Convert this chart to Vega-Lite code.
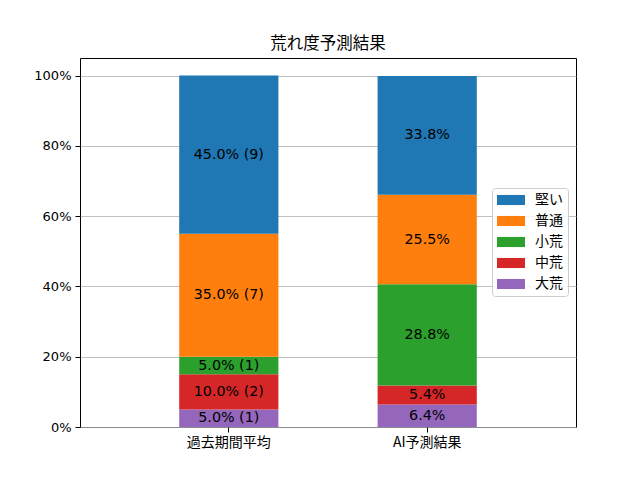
{
  "$schema": "https://vega.github.io/schema/vega-lite/v6.json",
  "width": 496,
  "height": 369,
  "autosize": "none",
  "padding": {"left": 80, "top": 58, "right": 64, "bottom": 53},
  "background": "white",
  "title": {
    "text": "荒れ度予測結果",
    "font": "Noto Sans CJK JP",
    "fontSize": 16.5,
    "fontWeight": "normal",
    "color": "black",
    "offset": 6
  },
  "data": {
    "values": [
      {"group": "過去期間平均", "category": "大荒", "rank": 1, "value": 0.05, "label": "5.0% (1)"},
      {"group": "過去期間平均", "category": "中荒", "rank": 2, "value": 0.10, "label": "10.0% (2)"},
      {"group": "過去期間平均", "category": "小荒", "rank": 3, "value": 0.05, "label": "5.0% (1)"},
      {"group": "過去期間平均", "category": "普通", "rank": 4, "value": 0.35, "label": "35.0% (7)"},
      {"group": "過去期間平均", "category": "堅い", "rank": 5, "value": 0.45, "label": "45.0% (9)"},
      {"group": "AI予測結果", "category": "大荒", "rank": 1, "value": 0.064, "label": "6.4%"},
      {"group": "AI予測結果", "category": "中荒", "rank": 2, "value": 0.054, "label": "5.4%"},
      {"group": "AI予測結果", "category": "小荒", "rank": 3, "value": 0.288, "label": "28.8%"},
      {"group": "AI予測結果", "category": "普通", "rank": 4, "value": 0.255, "label": "25.5%"},
      {"group": "AI予測結果", "category": "堅い", "rank": 5, "value": 0.338, "label": "33.8%"}
    ]
  },
  "transform": [
    {"stack": "value", "groupby": ["group"], "sort": [{"field": "rank", "order": "ascending"}], "as": ["y0", "y1"]},
    {"calculate": "(datum.y0 + datum.y1) / 2", "as": "ymid"}
  ],
  "encoding": {
    "x": {
      "field": "group",
      "type": "nominal",
      "sort": ["過去期間平均", "AI予測結果"],
      "scale": {"paddingInner": 0.5, "paddingOuter": 0.5},
      "axis": {
        "title": null,
        "labelAngle": 0,
        "labelFont": "Noto Sans CJK JP",
        "labelFontSize": 14,
        "labelColor": "black",
        "labelPadding": 3,
        "tickColor": "black",
        "tickSize": 5,
        "domain": false,
        "grid": false
      }
    }
  },
  "layer": [
    {
      "mark": {"type": "bar"},
      "encoding": {
        "y": {
          "field": "y0",
          "type": "quantitative",
          "scale": {"domain": [0, 1.05], "nice": false},
          "axis": {
            "title": null,
            "values": [0, 0.2, 0.4, 0.6, 0.8, 1.0],
            "format": ".0%",
            "labelFont": "DejaVu Sans",
            "labelFontSize": 13,
            "labelColor": "black",
            "labelPadding": 4,
            "tickColor": "black",
            "tickSize": 5,
            "domain": false,
            "grid": true,
            "gridColor": "#b0b0b0",
            "gridWidth": 0.8
          }
        },
        "y2": {"field": "y1"},
        "color": {
          "field": "category",
          "type": "nominal",
          "scale": {
            "domain": ["堅い", "普通", "小荒", "中荒", "大荒"],
            "range": ["#1f77b4", "#ff7f0e", "#2ca02c", "#d62728", "#9467bd"]
          },
          "legend": {
            "title": null,
            "orient": "none",
            "legendX": 412,
            "legendY": 130,
            "symbolType": "M-1,-0.72L3,-0.72L3,0.72L-1,0.72Z",
            "symbolSize": 196,
            "symbolStrokeWidth": 0,
            "symbolOpacity": 1,
            "labelFont": "Noto Sans CJK JP",
            "labelFontSize": 14,
            "labelColor": "black",
            "labelOffset": 24,
            "rowPadding": 7,
            "padding": 5,
            "strokeColor": "#cccccc",
            "fillColor": "rgba(255,255,255,0.8)",
            "cornerRadius": 3
          }
        }
      }
    },
    {
      "mark": {"type": "text", "fontSize": 14.3, "font": "DejaVu Sans", "color": "black", "baseline": "middle"},
      "encoding": {
        "y": {"field": "ymid", "type": "quantitative"},
        "text": {"field": "label", "type": "nominal"}
      }
    }
  ],
  "config": {
    "view": {"stroke": "black", "strokeWidth": 1}
  }
}
